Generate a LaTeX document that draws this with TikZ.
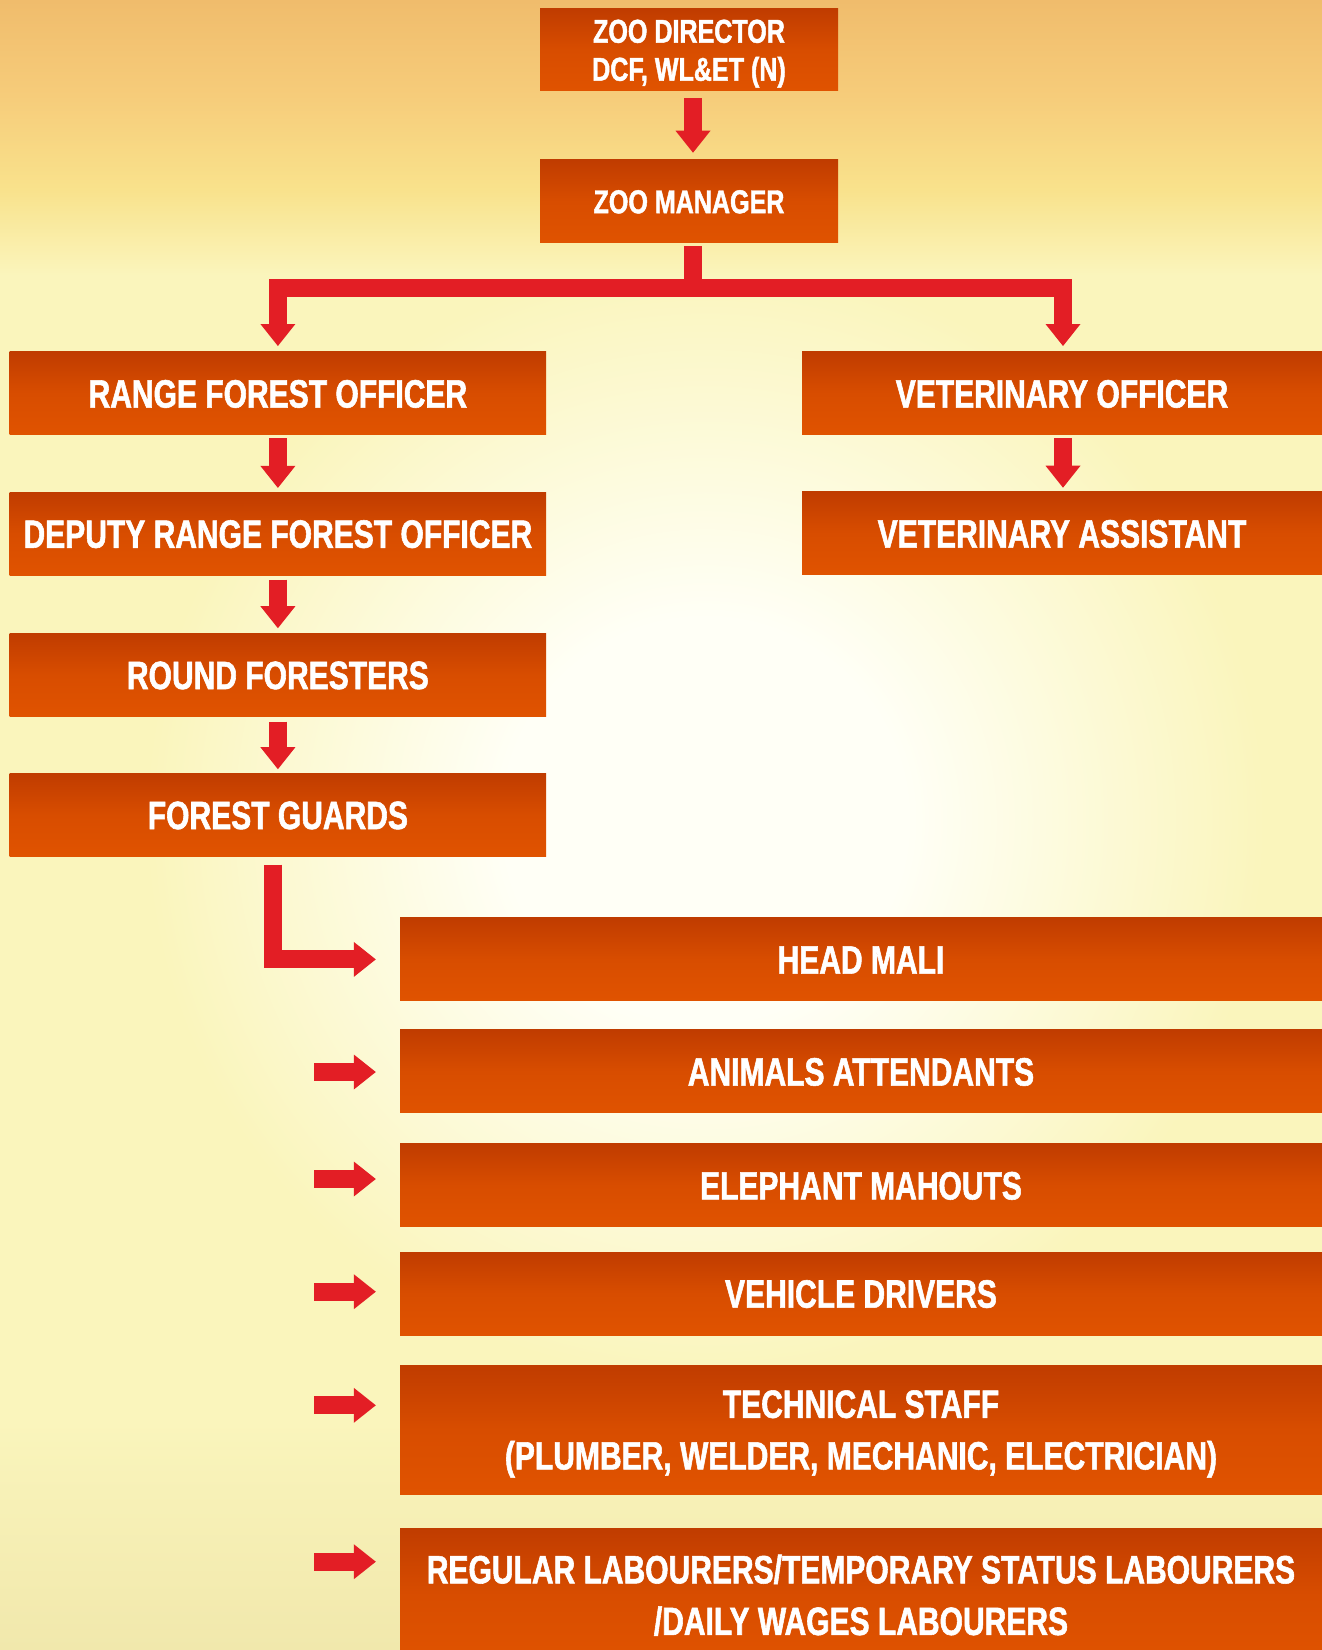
\documentclass[tikz,border=0pt]{standalone}
\usepackage{fontspec}
\newfontfamily\postfont[FakeStretch=0.76, BoldFeatures={FakeBold=1.4}]{Liberation Sans}
\usetikzlibrary{arrows.meta}

\definecolor{skytop}{RGB}{240,188,108}
\definecolor{skymid}{RGB}{246,204,122}
\definecolor{skylow}{RGB}{249,226,140}
\definecolor{haze}{RGB}{250,245,188}
\definecolor{glow}{RGB}{255,255,246}
\definecolor{grass}{RGB}{241,232,172}
\definecolor{posttop}{RGB}{192,60,0}
\definecolor{postmid}{RGB}{216,77,0}
\definecolor{postbot}{RGB}{224,83,0}
\definecolor{flowred}{RGB}{227,30,37}

\pgfdeclareradialshading{sunglow}{\pgfpointorigin}{color(0bp)=(glow); color(9bp)=(glow); color(25bp)=(haze); color(50bp)=(haze)}

\tikzset{
  post/.style={rectangle, inner sep=0pt, minimum height=83pt,
    top color=posttop, bottom color=postbot, middle color=postmid, text=white},
  bigpost/.style={post, font=\postfont\bfseries\fontsize{39.5}{51.6}\selectfont,
    text height=28.3pt, text depth=0pt},
  smallpost/.style={post, font=\postfont\bfseries\fontsize{33}{38}\selectfont,
    text height=23.6pt, text depth=0pt},
  flow/.style={draw=flowred, line width=18pt,
    -{Triangle[length=22pt,width=35pt,line width=0pt]}}
}

\begin{document}
\begin{tikzpicture}[x=1pt,y=-1pt]
  \useasboundingbox (0,0) rectangle (1322,1650);
  \clip (0,0) rectangle (1322,1650);
  % sky and haze
  \fill[haze] (0,0) rectangle (1322,1650);
  \shade[shading=sunglow] (705,820) circle (560);
  \shade[top color=skytop, bottom color=skymid] (0,0) rectangle (1322,95);
  \shade[top color=skymid, bottom color=skylow] (0,95) rectangle (1322,190);
  \shade[top color=skylow, bottom color=haze] (0,190) rectangle (1322,275);
  \shade[top color=haze, bottom color=grass] (0,1420) rectangle (1322,1650);

  % top of the chart
  \node[smallpost, minimum width=298pt, minimum height=82pt, align=center,
    text height=61.6pt] (dir) at (689,49.9) {ZOO DIRECTOR\\DCF, WL\&ET (N)};
  \node[smallpost, minimum width=298pt] (mgr) at (689,201.4) {ZOO MANAGER};

  % left branch
  \node[bigpost, minimum width=536.5pt] (rfo) at (277.9,393.4) {RANGE FOREST OFFICER};
  \node[bigpost, minimum width=536.5pt] (drfo) at (277.9,533.6) {DEPUTY RANGE FOREST OFFICER};
  \node[bigpost, minimum width=536.5pt] (rf) at (277.9,674.9) {ROUND FORESTERS};
  \node[bigpost, minimum width=536.5pt] (fg) at (277.9,814.9) {FOREST GUARDS};

  % right branch
  \node[bigpost, minimum width=520pt] (vo) at (1062,393.4) {VETERINARY OFFICER};
  \node[bigpost, minimum width=520pt] (va) at (1062,533.4) {VETERINARY ASSISTANT};

  % staff under the forest guards
  \node[bigpost, minimum width=922pt] (hm) at (861,959.4) {HEAD MALI};
  \node[bigpost, minimum width=922pt] (an) at (861,1071.4) {ANIMALS ATTENDANTS};
  \node[bigpost, minimum width=922pt] (el) at (861,1185.3) {ELEPHANT MAHOUTS};
  \node[bigpost, minimum width=922pt] (vd) at (861,1293.5) {VEHICLE DRIVERS};
  \node[bigpost, minimum width=922pt, minimum height=129pt, align=center,
    text height=79.9pt] (ts) at (861,1429.5)
    {TECHNICAL STAFF\\(PLUMBER, WELDER, MECHANIC, ELECTRICIAN)};
  \node[bigpost, minimum width=922pt, minimum height=134pt, align=center,
    text height=79.9pt] (rl) at (861,1595)
    {REGULAR LABOURERS/TEMPORARY STATUS LABOURERS\\/DAILY WAGES LABOURERS};

  % connectors
  \coordinate (split) at (693,287.5);
  \draw[flow, shorten <=7pt, shorten >=7pt] ([xshift=4pt]dir.south) -- ([xshift=4pt]mgr.north);
  \draw[flow, -] ([xshift=4pt,yshift=-3pt]mgr.south) -- ([yshift=-9pt]split);
  \draw[flow, shorten >=5.7pt] (split) -| (rfo.north);
  \draw[flow, shorten >=5.7pt] (split) -| ([xshift=1pt]vo.north);
  \draw[flow, shorten <=3pt, shorten >=4pt] (rfo.south) -- (drfo.north);
  \draw[flow, shorten <=4.3pt, shorten >=5pt] (drfo.south) -- (rf.north);
  \draw[flow, shorten <=5pt, shorten >=4pt] (rf.south) -- (fg.north);
  \draw[flow, shorten <=3pt, shorten >=4pt] ([xshift=1pt]vo.south) -- ([xshift=1pt]va.north);
  \draw[flow, shorten <=8pt, shorten >=24pt] ([xshift=-5pt]fg.south) |- (hm.west);

  \coordinate (an-in) at (314,1072);
  \coordinate (el-in) at (314,1179);
  \coordinate (vd-in) at (314,1291.7);
  \coordinate (ts-in) at (314,1405.3);
  \coordinate (rl-in) at (314,1561.7);
  \draw[flow, shorten >=24pt] (an-in) -- (an-in -| an.west);
  \draw[flow, shorten >=24pt] (el-in) -- (el-in -| el.west);
  \draw[flow, shorten >=24pt] (vd-in) -- (vd-in -| vd.west);
  \draw[flow, shorten >=24pt] (ts-in) -- (ts-in -| ts.west);
  \draw[flow, shorten >=24pt] (rl-in) -- (rl-in -| rl.west);
\end{tikzpicture}
\end{document}
